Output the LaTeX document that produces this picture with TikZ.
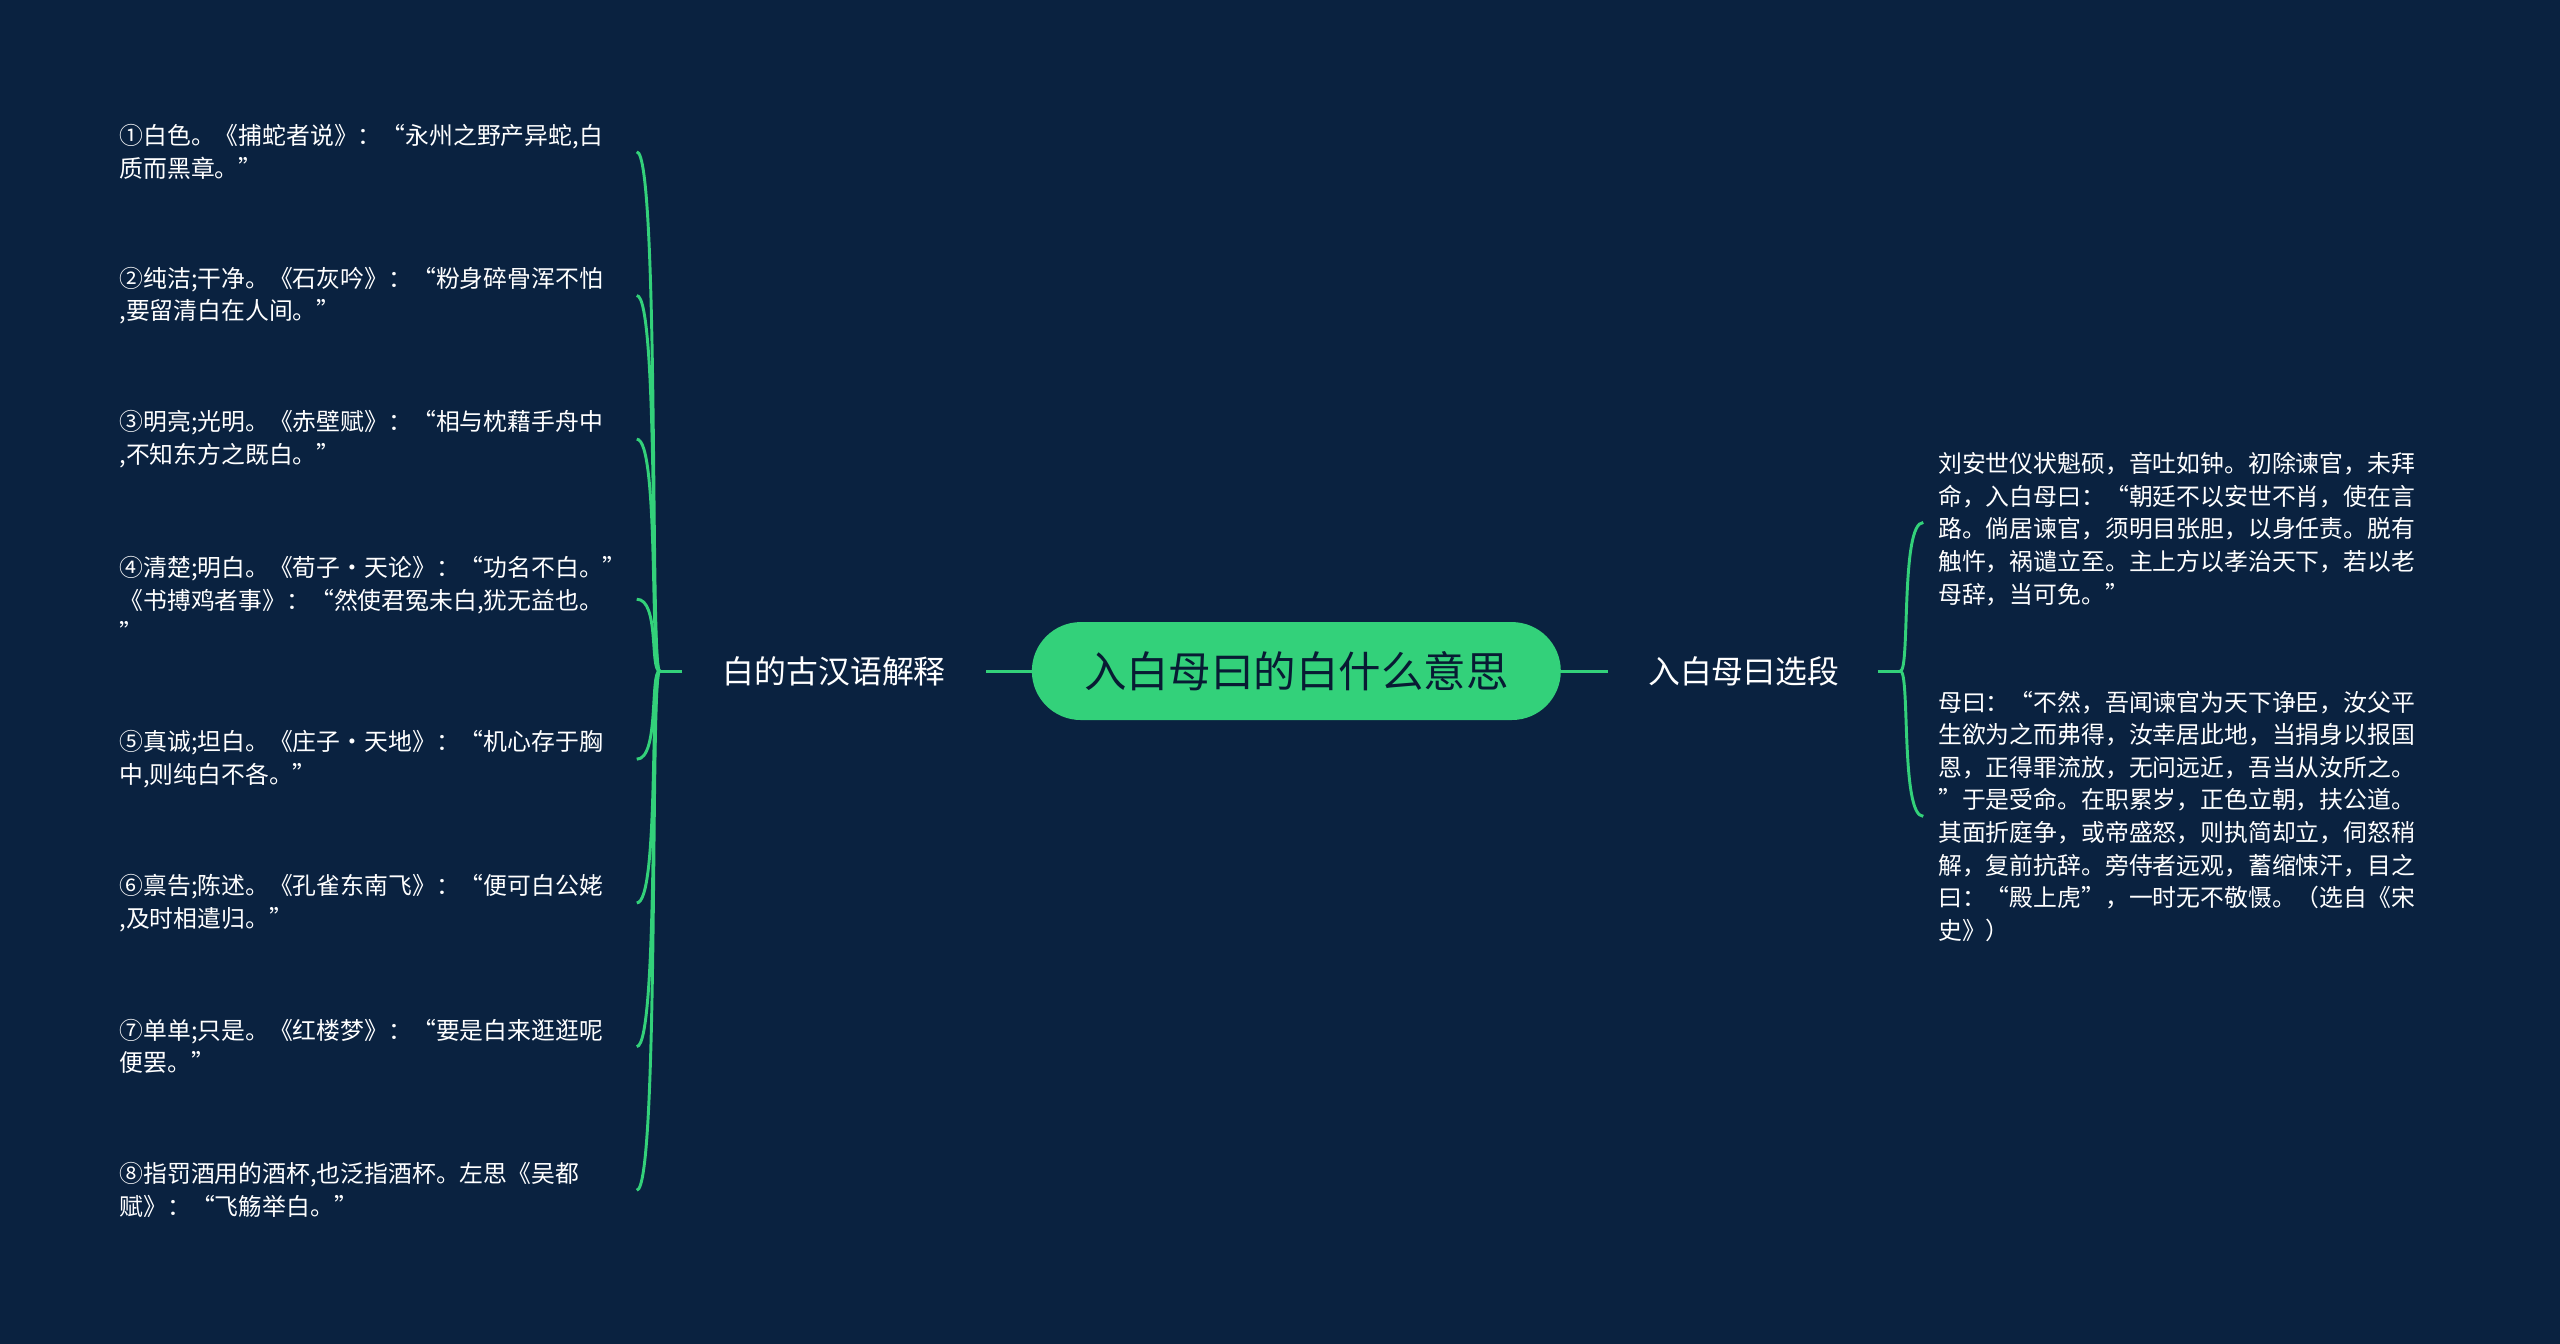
\documentclass[tikz,border=0pt]{standalone}
\usepackage{fontspec}
\setmainfont{Noto Sans CJK SC}
\definecolor{bg}{HTML}{0A2240}
\definecolor{gr}{HTML}{33D17A}
\begin{document}
\begin{tikzpicture}[x=1pt,y=-1pt,
  item/.style={anchor=west,align=left,text=white,font=\fontsize{14.6}{20}\selectfont,inner sep=0pt},
  br/.style={text=white,font=\fontsize{19.5}{24}\selectfont,inner sep=0pt},
  ln/.style={draw=gr,line width=1.8pt}]
\fill[bg] (0,0) rectangle (1568,823);
\useasboundingbox (0,0) rectangle (1568,823);
\node[fill=gr,rounded corners=30pt,minimum width=324pt,minimum height=60pt,font=\fontsize{26}{30}\selectfont,text=bg!80!black] (c) at (794,411) {入白母曰的白什么意思};
\node[br] (L) at (511,411) {白的古汉语解释};
\node[br] (R) at (1068,411) {入白母曰选段};
\coordinate (la) at (604,411); \coordinate (ra) at (985,411);
\draw[ln] (c.west) -- (la);
\draw[ln] (c.east) -- (ra);
\coordinate (lb) at (418,411); \coordinate (lc) at (404,411);
\draw[ln] (lb) -- (lc);
\coordinate (rb) at (1150,411); \coordinate (rc) at (1164,411);
\draw[ln] (rb) -- (rc);
\foreach \y/\t in {
 93/{①白色。《捕蛇者说》：“永州之野产异蛇,白\\质而黑章。”},
 181/{②纯洁;干净。《石灰吟》：“粉身碎骨浑不怕\\,要留清白在人间。”},
 269/{③明亮;光明。《赤壁赋》：“相与枕藉手舟中\\,不知东方之既白。”},
 367/{④清楚;明白。《荀子·天论》：“功名不白。”\\《书搏鸡者事》：“然使君冤未白,犹无益也。\\”},
 465/{⑤真诚;坦白。《庄子·天地》：“机心存于胸\\中,则纯白不各。”},
 553/{⑥禀告;陈述。《孔雀东南飞》：“便可白公姥\\,及时相遣归。”},
 641/{⑦单单;只是。《红楼梦》：“要是白来逛逛呢\\便罢。”},
 729/{⑧指罚酒用的酒杯,也泛指酒杯。左思《吴都\\赋》：“飞觞举白。”}}{
  \node[item] (n\y) at (73,\y) {\t};
  \coordinate (e\y) at (390,\y);
  \draw[ln] (lc) .. controls (398,411) and (404,\y) .. (e\y);
}
\node[item] (r1) at (1187,324) {刘安世仪状魁硕，音吐如钟。初除谏官，未拜\\命，入白母曰：“朝廷不以安世不肖，使在言\\路。倘居谏官，须明目张胆，以身任责。脱有\\触忤，祸谴立至。主上方以孝治天下，若以老\\母辞，当可免。”};
\node[item] (r2) at (1187,500) {母曰：“不然，吾闻谏官为天下诤臣，汝父平\\生欲为之而弗得，汝幸居此地，当捐身以报国\\恩，正得罪流放，无问远近，吾当从汝所之。\\”于是受命。在职累岁，正色立朝，扶公道。\\其面折庭争，或帝盛怒，则执简却立，伺怒稍\\解，复前抗辞。旁侍者远观，蓄缩悚汗，目之\\曰：“殿上虎”，一时无不敬慑。（选自《宋\\史》）};
\coordinate (f1) at (1178,320); \coordinate (f2) at (1178,500);
\draw[ln] (rc) .. controls (1170,411) and (1164,320) .. (f1);
\draw[ln] (rc) .. controls (1170,411) and (1164,500) .. (f2);
\end{tikzpicture}
\end{document}
